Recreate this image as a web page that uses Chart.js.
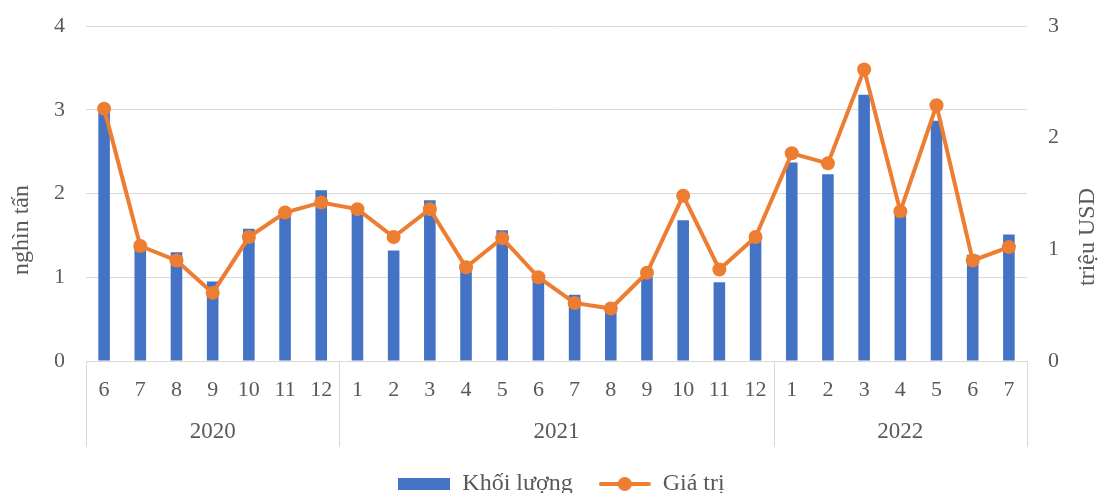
<!DOCTYPE html>
<html>
<head>
<meta charset="utf-8">
<script src="https://cdn.jsdelivr.net/npm/chart.js@4"></script>
<style>
  body { margin: 0; background: #fff; }
  #wrap { width: 1099px; height: 493px; }
</style>
</head>
<body>
<div id="wrap"><canvas id="myChart"></canvas></div>
<script>
var months = ["6", "7", "8", "9", "10", "11", "12",
  "1", "2", "3", "4", "5", "6", "7", "8", "9", "10", "11", "12",
  "1", "2", "3", "4", "5", "6", "7"];
var years = ["2020", "2021", "2022"];
var monthsInYear = [7, 12, 7];

// nghìn tấn
var khoiLuong = [3.02, 1.42, 1.30, 0.95, 1.58, 1.77, 2.04,
  1.79, 1.32, 1.92, 1.12, 1.56, 1.02, 0.79, 0.62, 1.01, 1.68, 0.94, 1.45,
  2.37, 2.23, 3.18, 1.78, 2.87, 1.27, 1.51];
// triệu USD
var giaTri = [2.26, 1.03, 0.90, 0.61, 1.11, 1.33, 1.42,
  1.36, 1.11, 1.36, 0.84, 1.10, 0.75, 0.52, 0.47, 0.79, 1.48, 0.82, 1.11,
  1.86, 1.77, 2.61, 1.34, 2.29, 0.90, 1.02];

var leftTitle = "nghìn tấn";
var rightTitle = "triệu USD";

var textColor = "#595959";
var gridColor = "#d9d9d9";
var blue = "#4472c4";
var orange = "#ed7d31";
var serif = "'Liberation Serif', 'Times New Roman', serif";

function makeSwatch(w, h, draw) {
  var c = document.createElement("canvas");
  c.width = w;
  c.height = h;
  draw(c.getContext("2d"));
  return c;
}
var barSwatch = makeSwatch(52, 12, function (g) {
  g.fillStyle = blue;
  g.fillRect(0, 0, 52, 12);
});
var lineSwatch = makeSwatch(52, 16, function (g) {
  g.strokeStyle = orange;
  g.lineWidth = 4;
  g.lineCap = "round";
  g.beginPath();
  g.moveTo(2, 8);
  g.lineTo(50, 8);
  g.stroke();
  g.fillStyle = orange;
  g.beginPath();
  g.arc(26, 8, 7, 0, Math.PI * 2);
  g.fill();
});

// year row under the months, group dividers and the two axis titles
var axisExtras = {
  id: "axisExtras",
  afterDraw: function (chart) {
    var ctx = chart.ctx;
    var xs = chart.scales.x;
    var area = chart.chartArea;
    var edges = [area.left];
    var idx = 0;
    for (var i = 0; i < monthsInYear.length; i++) {
      idx += monthsInYear[i];
      if (idx < months.length) {
        edges.push((xs.getPixelForValue(idx - 1) + xs.getPixelForValue(idx)) / 2);
      } else {
        edges.push(area.right);
      }
    }
    ctx.save();
    ctx.strokeStyle = gridColor;
    ctx.lineWidth = 1;
    edges.forEach(function (ex) {
      var px = Math.round(ex) + 0.5;
      ctx.beginPath();
      ctx.moveTo(px, area.bottom);
      ctx.lineTo(px, area.bottom + 86);
      ctx.stroke();
    });
    ctx.fillStyle = textColor;
    ctx.font = "23px " + serif;
    ctx.textAlign = "center";
    ctx.textBaseline = "middle";
    years.forEach(function (y, i) {
      ctx.fillText(y, (edges[i] + edges[i + 1]) / 2, area.bottom + 71);
    });

    ctx.font = "24px " + serif;
    ctx.save();
    ctx.translate(22, 230);
    ctx.rotate(-Math.PI / 2);
    ctx.fillText(leftTitle, 0, 0);
    ctx.restore();
    ctx.save();
    ctx.translate(1088, 237);
    ctx.rotate(-Math.PI / 2);
    ctx.fillText(rightTitle, 0, 0);
    ctx.restore();
    ctx.restore();
  }
};

// y axes: fixed width, and no extra room above/below for the tick padding
function fitY(width) {
  return function (s) {
    s.width = width;
    s.paddingTop = 0;
    s.paddingBottom = 0;
  };
}

var ctx = document.getElementById("myChart").getContext("2d");
var myChart = new Chart(ctx, {
  type: "bar",
  data: {
    labels: months,
    datasets: [
      {
        type: "bar",
        label: "Khối lượng",
        data: khoiLuong,
        backgroundColor: blue,
        yAxisID: "y",
        order: 2,
        barPercentage: 0.32,
        categoryPercentage: 1
      },
      {
        type: "line",
        label: "Giá trị",
        data: giaTri,
        borderColor: orange,
        backgroundColor: orange,
        borderWidth: 4,
        pointRadius: 7,
        pointHoverRadius: 7,
        pointBorderWidth: 0,
        tension: 0,
        yAxisID: "y1",
        order: 1
      }
    ]
  },
  options: {
    responsive: true,
    maintainAspectRatio: false,
    animation: false,
    layout: { padding: { left: 24, right: 0, top: 26, bottom: -13 } },
    plugins: {
      tooltip: { enabled: false },
      legend: {
        position: "bottom",
        labels: {
          usePointStyle: true,
          pointStyleWidth: 52,
          padding: 26,
          color: textColor,
          font: { family: serif, size: 24 },
          generateLabels: function (chart) {
            var items = Chart.defaults.plugins.legend.labels.generateLabels(chart);
            items.sort(function (a, b) { return a.datasetIndex - b.datasetIndex; });
            items.forEach(function (it) {
              it.pointStyle = it.datasetIndex === 0 ? barSwatch : lineSwatch;
            });
            return items;
          }
        }
      }
    },
    scales: {
      x: {
        grid: { display: false, drawTicks: false },
        border: { display: true, color: gridColor },
        ticks: {
          color: textColor,
          font: { family: serif, size: 22 },
          padding: 16,
          autoSkip: false,
          maxRotation: 0
        },
        afterFit: function (s) { s.height = 85; }
      },
      y: {
        position: "left",
        min: 0,
        max: 4,
        grid: { color: gridColor, drawTicks: false },
        border: { display: false },
        ticks: {
          stepSize: 1,
          color: textColor,
          font: { family: serif, size: 22 },
          padding: 21
        },
        afterFit: fitY(62)
      },
      y1: {
        position: "right",
        min: 0,
        max: 3,
        grid: { display: false, drawTicks: false },
        border: { display: false },
        ticks: {
          stepSize: 1,
          color: textColor,
          font: { family: serif, size: 22 },
          padding: 21
        },
        afterFit: fitY(72)
      }
    }
  },
  plugins: [axisExtras]
});
</script>
</body>
</html>
